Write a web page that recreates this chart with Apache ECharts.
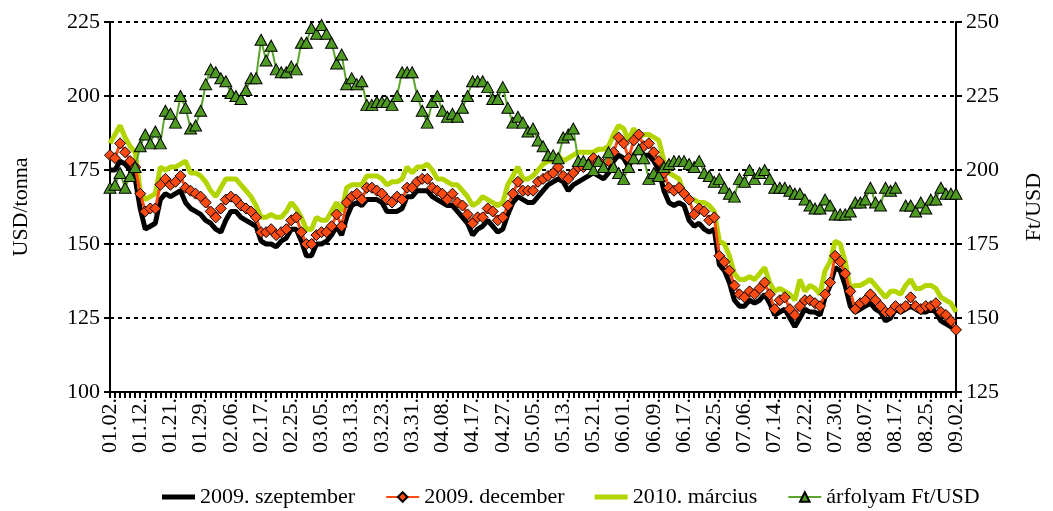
<!DOCTYPE html>
<html>
<head>
<meta charset="utf-8">
<title>Kukorica árak és árfolyam</title>
<script src="https://cdn.jsdelivr.net/npm/echarts@6/dist/echarts.min.js"></script>
<style>
  html, body { margin: 0; padding: 0; background: #fff; }
  #chart { width: 1053px; height: 511px; }
</style>
</head>
<body>
<div id="chart"></div>
<script>
// kereskedési napok 2009.01.02. - 2009.09.02.
const dates = [
  '01.02.','01.05.','01.06.','01.07.','01.08.','01.09.','01.12.','01.13.','01.14.','01.15.',
  '01.16.','01.20.','01.21.','01.22.','01.23.','01.26.','01.27.','01.28.','01.29.','01.30.',
  '02.02.','02.03.','02.04.','02.05.','02.06.','02.09.','02.10.','02.11.','02.12.','02.13.',
  '02.17.','02.18.','02.19.','02.20.','02.23.','02.24.','02.25.','02.26.','02.27.',
  '03.02.','03.03.','03.04.','03.05.','03.06.','03.09.','03.10.','03.11.','03.12.','03.13.',
  '03.16.','03.17.','03.18.','03.19.','03.20.','03.23.','03.24.','03.25.','03.26.','03.27.',
  '03.30.','03.31.',
  '04.01.','04.02.','04.03.','04.06.','04.07.','04.08.','04.09.','04.13.','04.14.','04.15.',
  '04.16.','04.17.','04.20.','04.21.','04.22.','04.23.','04.24.','04.27.','04.28.','04.29.',
  '04.30.',
  '05.01.','05.04.','05.05.','05.06.','05.07.','05.08.','05.11.','05.12.','05.13.','05.14.',
  '05.15.','05.18.','05.19.','05.20.','05.21.','05.22.','05.26.','05.27.','05.28.','05.29.',
  '06.01.','06.02.','06.03.','06.04.','06.05.','06.08.','06.09.','06.10.','06.11.','06.12.',
  '06.15.','06.16.','06.17.','06.18.','06.19.','06.22.','06.23.','06.24.','06.25.','06.26.',
  '06.29.','06.30.',
  '07.01.','07.02.','07.06.','07.07.','07.08.','07.09.','07.10.','07.13.','07.14.','07.15.',
  '07.16.','07.17.','07.20.','07.21.','07.22.','07.23.','07.24.','07.27.','07.28.','07.29.',
  '07.30.','07.31.',
  '08.03.','08.04.','08.05.','08.06.','08.07.','08.10.','08.11.','08.12.','08.13.','08.14.',
  '08.17.','08.18.','08.19.','08.20.','08.21.','08.24.','08.25.','08.26.','08.27.','08.28.',
  '08.31.',
  '09.01.','09.02.'
];

// USD/tonna
const sep2009 = [
  175,175,178,177,175,172,162,155,156,157,
  165,167,166,167,168,164,162,161,160,158,
  157,155,154,158,161,161,159,158,157,156,
  151,150,150,149,151,152,155,155,151,146,
  146,150,150,151,153,156,153,159,163,164,
  163,165,165,165,164,161,161,161,162,166,
  166,168,168,168,166,165,164,163,163,161,
  159,157,153,155,156,158,156,154,155,160,
  164,166,165,164,164,166,168,170,171,172,
  171,168,170,171,172,173,174,173,172,174,
  178,180,179,176,180,182,180,180,178,175,
  168,164,163,164,163,158,156,157,155,154,
  155,143,141,137,131,129,129,131,130,131,
  133,130,126,127,128,125,122,125,128,127,
  127,126,132,136,142,141,136,129,127,128,
  129,130,128,127,124,125,128,127,128,129,
  128,127,127,128,127,124,123,122,121
];

const dec2009 = [
  180,179,184,181,178,176,167,161,162,162,
  170,172,170,171,173,169,168,167,166,164,
  161,159,162,165,166,165,163,162,161,159,
  154,154,155,153,154,155,158,159,154,150,
  150,153,154,154,156,160,156,164,166,167,
  165,169,169,168,167,165,164,166,165,169,
  169,171,172,172,169,168,167,165,167,164,
  163,160,157,159,159,162,161,158,159,163,
  167,171,168,168,168,171,172,173,174,176,
  173,172,174,176,176,177,179,178,177,178,
  181,186,184,179,185,187,183,184,181,178,
  174,169,168,169,167,165,160,162,161,158,
  159,146,144,141,136,133,132,134,133,135,
  137,133,128,131,132,128,126,129,131,131,
  130,129,133,137,146,144,140,134,128,130,
  131,133,131,129,127,127,129,128,129,132,
  129,128,129,129,130,127,126,124,121
];

const mar2010 = [
  184,187,190,186,183,181,168,165,166,167,
  176,175,176,176,177,178,174,174,173,171,
  168,166,169,172,172,172,170,168,166,163,
  159,159,160,159,159,161,164,162,159,155,
  155,159,158,158,161,164,161,169,170,170,
  170,173,173,173,172,170,171,171,172,176,
  174,176,176,177,175,172,172,171,170,170,
  168,166,163,164,166,165,164,163,164,170,
  173,176,172,172,173,175,177,178,178,180,
  178,179,180,181,181,181,181,182,182,183,
  187,190,189,185,189,186,187,187,186,185,
  178,174,173,172,167,165,165,164,164,163,
  161,151,150,146,140,138,138,139,138,140,
  142,137,134,135,134,133,131,138,134,136,
  135,133,141,144,151,150,144,135,136,136,
  137,138,136,134,132,134,134,133,136,138,
  135,135,136,136,135,132,131,130,127
];

// Ft/USD
const fxRate = [
  194,195,199,194,198,201,208,212,209,213,
  209,220,219,216,225,221,214,215,220,229,
  234,233,231,230,226,225,224,227,231,231,
  244,237,242,234,233,233,235,234,243,243,
  248,246,249,246,243,236,239,229,231,229,
  230,222,222,223,223,223,222,225,233,233,
  233,225,220,216,223,225,220,218,219,218,
  221,225,230,230,230,228,224,224,228,221,
  216,218,216,213,214,210,208,205,205,204,
  211,212,214,203,203,202,200,203,201,206,
  201,199,197,201,204,207,204,197,199,198,
  201,202,203,203,203,202,201,203,199,198,
  196,197,194,192,191,197,196,200,197,199,
  200,197,194,194,194,193,192,192,190,188,
  187,187,190,188,185,185,185,186,189,189,
  190,194,189,188,194,193,194,null,188,188,
  186,189,187,190,190,194,192,192,192
];

const FONT = 'Liberation Serif';
const chart = echarts.init(document.getElementById('chart'));

const axisBlack = { lineStyle: { color: '#000', width: 2 } };
const tickBlack = { show: true, length: 6, lineStyle: { color: '#000', width: 2 } };
const labelStyle = { fontFamily: FONT, fontSize: 22, color: '#000' };
// vastag vonal ikon a jelölő nélküli sorozatokhoz
const barIcon = 'path://M0,0H40V6H0Z';

const option = {
  animation: false,
  backgroundColor: '#fff',
  grid: { left: 110, right: 93, top: 22, bottom: 119, containLabel: false },
  legend: {
    left: 157,
    top: 481,
    itemWidth: 33,
    itemHeight: 12,
    itemGap: 30,
    textStyle: labelStyle,
    data: [
      { name: '2009. szeptember', icon: barIcon },
      '2009. december',
      { name: '2010. március', icon: barIcon },
      'árfolyam Ft/USD'
    ]
  },
  xAxis: {
    type: 'category',
    data: dates,
    boundaryGap: false,
    axisLine: axisBlack,
    axisTick: { show: true, interval: 0, length: 6, lineStyle: { color: '#000', width: 2 } },
    axisLabel: Object.assign({ interval: 5, rotate: 90, margin: 6 }, labelStyle),
    splitLine: { show: false }
  },
  yAxis: [
    {
      type: 'value',
      min: 100, max: 225, interval: 25,
      name: 'USD/tonna',
      nameLocation: 'middle',
      nameRotate: 90,
      nameGap: 78,
      nameTextStyle: labelStyle,
      axisLine: Object.assign({ show: true }, axisBlack),
      axisTick: tickBlack,
      axisLabel: Object.assign({ margin: 10 }, labelStyle),
      splitLine: { show: true, lineStyle: { color: '#000', width: 2, type: [4, 4] } }
    },
    {
      type: 'value',
      position: 'right',
      min: 125, max: 250, interval: 25,
      name: 'Ft/USD',
      nameLocation: 'middle',
      nameRotate: 90,
      nameGap: 67,
      nameTextStyle: labelStyle,
      axisLine: Object.assign({ show: true }, axisBlack),
      axisTick: tickBlack,
      axisLabel: Object.assign({ margin: 10 }, labelStyle),
      splitLine: { show: false }
    }
  ],
  series: [
    {
      name: '2009. szeptember',
      type: 'line',
      data: sep2009,
      symbol: 'none',
      color: '#000',
      lineStyle: { color: '#000', width: 5 },
      z: 2
    },
    {
      name: '2009. december',
      type: 'line',
      data: dec2009,
      symbol: 'diamond',
      symbolSize: 11,
      showAllSymbol: true,
      color: '#FF4A12',
      lineStyle: { color: '#FF4A12', width: 3 },
      itemStyle: { color: '#FF4A12', borderColor: '#000', borderWidth: 1 },
      z: 4
    },
    {
      name: '2010. március',
      type: 'line',
      data: mar2010,
      symbol: 'none',
      color: '#B4D400',
      lineStyle: { color: '#B4D400', width: 5 },
      z: 3
    },
    {
      name: 'árfolyam Ft/USD',
      type: 'line',
      yAxisIndex: 1,
      data: fxRate,
      symbol: 'triangle',
      symbolSize: [12, 11],
      showAllSymbol: true,
      connectNulls: false,
      color: '#4E9A22',
      lineStyle: { color: '#5BA52C', width: 2 },
      itemStyle: { color: '#4E9A22', borderColor: '#000', borderWidth: 1 },
      z: 5
    }
  ]
};

chart.setOption(option);
</script>
</body>
</html>
